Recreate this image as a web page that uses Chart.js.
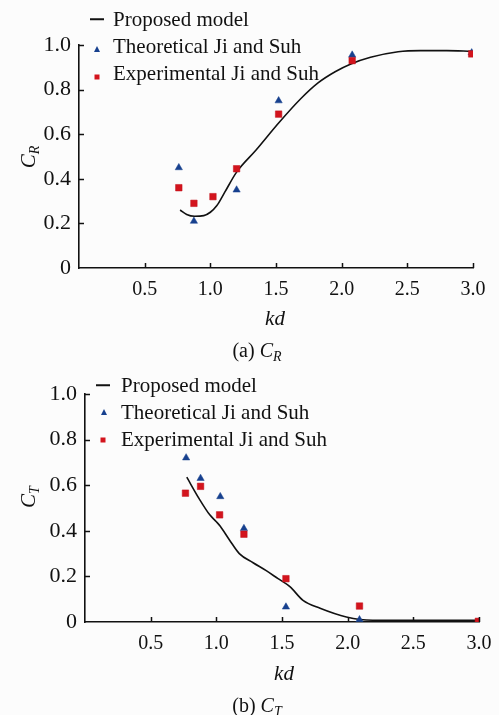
<!DOCTYPE html>
<html>
<head>
<meta charset="utf-8">
<script src="https://cdn.jsdelivr.net/npm/chart.js@4/dist/chart.umd.min.js"></script>
<style>
  html, body { margin: 0; padding: 0; background: #fcfcfc; }
  body { width: 499px; height: 715px; position: relative; overflow: hidden;
         font-family: "Liberation Serif", "Times New Roman", serif; color: #111; }
  .box { position: absolute; left: 0; width: 499px; height: 357px; }
  .lbl { position: absolute; transform: translate(-50%, -50%); white-space: nowrap; font-size: 21px; }
  .lbl sub { font-size: 14px; vertical-align: -4px; }
  .rot { transform: translate(-50%, -50%) rotate(-90deg); }
  .leg { position: absolute; white-space: nowrap; font-size: 21px; line-height: 21px; transform: translateY(-50%); }
  .mk { position: absolute; transform: translate(-50%, -50%); }
  .tri { width: 0; height: 0; border-left: 3px solid transparent; border-right: 3px solid transparent; border-bottom: 6px solid #17408e; }
  .sq { width: 5px; height: 5px; background: #d3141d; }
  .ln { width: 14px; height: 1.5px; background: #111; }
</style>
</head>
<body>
<div class="box" style="top:0"><canvas id="cr" width="499" height="357"></canvas></div>
<div class="box" style="top:357px"><canvas id="ct" width="499" height="357"></canvas></div>

<!-- legend (a) -->
<div class="mk ln" style="left:97px;top:19px"></div>
<div class="leg" style="left:113px;top:19px">Proposed model</div>
<div class="mk tri" style="left:97px;top:49px"></div>
<div class="leg" style="left:113px;top:46px">Theoretical Ji and Suh</div>
<div class="mk sq" style="left:97px;top:77px"></div>
<div class="leg" style="left:113px;top:73px">Experimental Ji and Suh</div>
<div class="lbl rot" style="left:29px;top:157px"><i>C</i><sub><i>R</i></sub></div>
<div class="lbl" style="left:275px;top:318px"><i>kd</i></div>
<div class="lbl" style="left:257px;top:352px;font-size:20px">(a) <i>C</i><sub><i>R</i></sub></div>

<!-- legend (b) -->
<div class="mk ln" style="left:103px;top:385px"></div>
<div class="leg" style="left:121px;top:385px">Proposed model</div>
<div class="mk tri" style="left:104px;top:412px"></div>
<div class="leg" style="left:121px;top:412px">Theoretical Ji and Suh</div>
<div class="mk sq" style="left:103px;top:440px"></div>
<div class="leg" style="left:121px;top:439px">Experimental Ji and Suh</div>
<div class="lbl rot" style="left:29px;top:497px"><i>C</i><sub><i>T</i></sub></div>
<div class="lbl" style="left:284px;top:673px"><i>kd</i></div>
<div class="lbl" style="left:257px;top:707px;font-size:20px">(b) <i>C</i><sub><i>T</i></sub></div>

<script>
// x ticks and y ticks
var kdTicks = [0.5, 1.0, 1.5, 2.0, 2.5, 3.0];
var cTicks = [0, 0.2, 0.4, 0.6, 0.8, 1.0];

// (a) reflection coefficient
var crModelKd = [0.77, 0.82, 0.88, 0.95, 1.0, 1.05, 1.11, 1.2, 1.35, 1.52, 1.69, 1.82, 1.95, 2.07, 2.22, 2.43, 2.6, 2.8, 2.99];
var crModel   = [0.26, 0.24, 0.232, 0.235, 0.25, 0.28, 0.34, 0.43, 0.53, 0.65, 0.76, 0.83, 0.88, 0.915, 0.945, 0.97, 0.975, 0.975, 0.972];
var crTheoKd  = [0.76, 0.875, 1.2, 1.52, 2.08, 2.99];
var crTheo    = [0.45, 0.21, 0.35, 0.75, 0.955, 0.965];
var crExpKd   = [0.76, 0.875, 1.02, 1.2, 1.52, 2.08, 2.99];
var crExp     = [0.36, 0.29, 0.32, 0.445, 0.69, 0.93, 0.96];

// (b) transmission coefficient
var ctModelKd = [0.775, 0.87, 0.95, 1.0, 1.03, 1.1, 1.175, 1.28, 1.38, 1.47, 1.56, 1.66, 1.79, 1.99, 2.19, 2.5, 3.0];
var ctModel   = [0.635, 0.54, 0.47, 0.44, 0.42, 0.36, 0.3, 0.26, 0.225, 0.19, 0.155, 0.095, 0.06, 0.022, 0.008, 0.008, 0.008];
var ctTheoKd  = [0.77, 0.88, 1.03, 1.21, 1.53, 2.09, 3.0];
var ctTheo    = [0.72, 0.63, 0.55, 0.41, 0.066, 0.01, 0.0];
var ctExpKd   = [0.765, 0.88, 1.025, 1.21, 1.53, 2.09, 2.995];
var ctExp     = [0.565, 0.595, 0.47, 0.385, 0.19, 0.07, 0.003];

function pts(xs, ys) {
    return xs.map(function (x, i) { return {x: x, y: ys[i]}; });
}

// inward tick marks
var inTicks = {
    id: "inTicks",
    afterDraw: function (chart) {
        var c = chart.ctx, a = chart.chartArea, sx = chart.scales.x, sy = chart.scales.y;
        c.save();
        c.strokeStyle = "#111";
        c.lineWidth = 1.5;
        c.beginPath();
        kdTicks.forEach(function (v) {
            var p = Math.round(sx.getPixelForValue(v)) + 0.5;
            c.moveTo(p, a.bottom); c.lineTo(p, a.bottom - 5);
        });
        cTicks.forEach(function (v) {
            if (v === 0) return;
            var p = Math.round(sy.getPixelForValue(v)) + 0.5;
            c.moveTo(a.left, p); c.lineTo(a.left + 5, p);
        });
        c.stroke();
        c.restore();
    }
};

function makeChart(id, model, theo, exp, pad, yW, xH) {
    return new Chart(document.getElementById(id), {
        type: "scatter",
        data: {
            datasets: [
                {label: "Experimental Ji and Suh", data: exp, pointStyle: "rect", pointRadius: 4.6,
                    backgroundColor: "#d3141d", borderColor: "#c0101a", borderWidth: 0.5},
                {label: "Theoretical Ji and Suh", data: theo, pointStyle: "triangle", pointRadius: 4.2,
                    backgroundColor: "#17408e", borderColor: "#17408e", borderWidth: 0.5},
                {label: "Proposed model", data: model, showLine: true, pointRadius: 0,
                    borderColor: "#111", borderWidth: 1.6, cubicInterpolationMode: "monotone", fill: false}
            ]
        },
        options: {
            responsive: false,
            animation: false,
            events: [],
            layout: {padding: pad},
            plugins: {legend: {display: false}, tooltip: {enabled: false}},
            scales: {
                x: {
                    type: "linear", min: 0, max: 3,
                    afterBuildTicks: function (s) { s.ticks = kdTicks.map(function (v) { return {value: v}; }); },
                    afterFit: function (s) { s.height = xH; },
                    grid: {display: false},
                    border: {display: true, color: "#111", width: 1.6},
                    ticks: {color: "#111", padding: 2, maxRotation: 0,
                        font: {family: "Liberation Serif", size: 20},
                        callback: function (v) { return v.toFixed(1); }}
                },
                y: {
                    type: "linear", min: 0, max: 1,
                    afterBuildTicks: function (s) { s.ticks = cTicks.map(function (v) { return {value: v}; }); },
                    afterFit: function (s) { s.width = yW; },
                    grid: {display: false},
                    border: {display: true, color: "#111", width: 1.6},
                    ticks: {color: "#111", padding: 0,
                        font: {family: "Liberation Serif", size: 22},
                        callback: function (v) { return v === 0 ? "0" : v.toFixed(1); }}
                }
            }
        },
        plugins: [inTicks]
    });
}

makeChart("cr", pts(crModelKd, crModel), pts(crTheoKd, crTheo), pts(crExpKd, crExp),
    {top: 45, right: 26, bottom: 0, left: 0}, 79, 89);
makeChart("ct", pts(ctModelKd, ctModel), pts(ctTheoKd, ctTheo), pts(ctExpKd, ctExp),
    {top: 37, right: 20, bottom: 0, left: 0}, 85, 92);
</script>
</body>
</html>
